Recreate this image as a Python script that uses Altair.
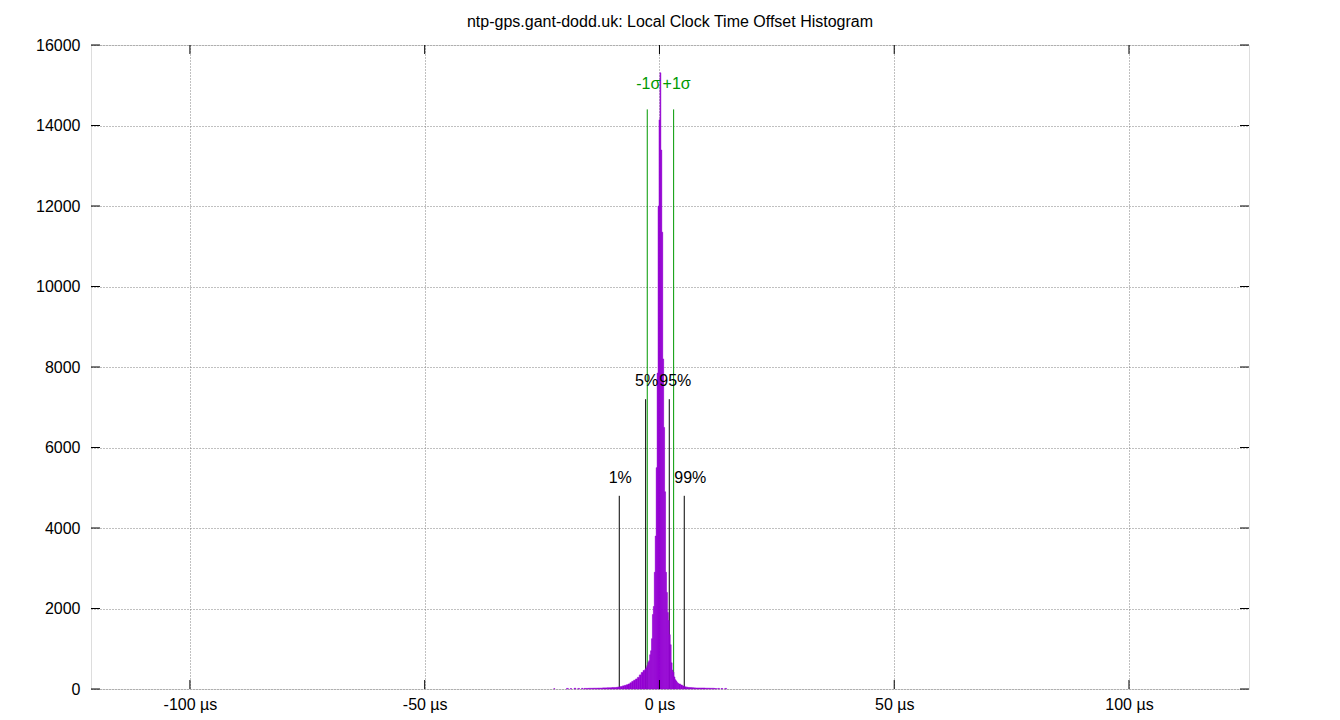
import altair as alt
import pandas as pd

# ---- histogram data (µs bin edges, counts) ----
bin_lo = [-22.5, -19.8, -19.0, -18.2, -17.4, -16.6, -16.1, -15.1, -14.1, -13.1, -12.1, -11.1, -10.1,
          -9.1, -8.7, -8.3, -7.9, -7.5, -7.1, -6.7, -6.3, -5.9, -5.5, -5.1, -4.7, -4.3, -3.9, -3.5,
          -3.1, -2.9, -2.7, -2.5, -2.3, -2.1, -1.9, -1.7, -1.5, -1.3, -1.1, -0.9, -0.7, -0.5, -0.3, -0.1,
          0.1, 0.3, 0.5, 0.7, 0.9, 1.1, 1.3, 1.5, 1.7, 1.9, 2.1, 2.3, 2.5, 2.7, 2.9, 3.1, 3.3, 3.5, 3.7, 3.9,
          4.1, 4.5, 4.9, 5.3, 5.7, 6.1, 6.5, 6.9, 7.3, 7.7, 8.7, 9.7, 10.7, 11.7, 12.4, 13.1, 13.9]
bin_hi = [-22.3, -19.4, -18.7, -17.8, -17.0, -16.3, -15.1, -14.1, -13.1, -12.1, -11.1, -10.1, -9.1,
          -8.7, -8.3, -7.9, -7.5, -7.1, -6.7, -6.3, -5.9, -5.5, -5.1, -4.7, -4.3, -3.9, -3.5, -3.1,
          -2.9, -2.7, -2.5, -2.3, -2.1, -1.9, -1.7, -1.5, -1.3, -1.1, -0.9, -0.7, -0.5, -0.3, -0.1, 0.1,
          0.3, 0.5, 0.7, 0.9, 1.1, 1.3, 1.5, 1.7, 1.9, 2.1, 2.3, 2.5, 2.7, 2.9, 3.1, 3.3, 3.5, 3.7, 3.9, 4.1,
          4.5, 4.9, 5.3, 5.7, 6.1, 6.5, 6.9, 7.3, 7.7, 8.7, 9.7, 10.7, 11.7, 12.2, 12.8, 13.5, 14.3]
counts = [12, 15, 12, 18, 14, 16, 15, 18, 20, 22, 28, 32, 38,
          45, 52, 62, 78, 90, 105, 125, 155, 190, 220, 250, 290, 350, 410, 460,
          490, 525, 580, 660, 700, 850, 950, 1250, 1850, 2050, 2900, 3800, 5500, 7850, 12000, 14140,
          15310, 13390, 11350, 8200, 6500, 4900, 2900, 2400, 1900, 1700, 1350, 1100, 650, 470, 420, 300, 230, 200, 160, 140,
          125, 100, 75, 55, 45, 38, 35, 32, 28, 25, 25, 20, 18, 12, 15, 12, 14]

# ---- marker lines ----
marker_names = ["1%", "5%", "95%", "99%", "-1σ", "+1σ"]
marker_x = [-8.56, -2.94, 2.09, 5.28, -2.60, 3.02]
marker_top = [4800, 7200, 7200, 4800, 14400, 14400]
marker_color = ["black", "black", "black", "black", "green", "green"]
marker_side = ["left", "left", "right", "right", "left", "right"]

y_ticks = [0, 2000, 4000, 6000, 8000, 10000, 12000, 14000, 16000]
x_ticks = [-100, -50, 0, 50, 100]

W, H = 1158, 644
FONT = "Liberation Sans"
PURPLE = "#9400d3"
GREEN = "#009900"
GRID = "#808080"

hist = pd.DataFrame({"lo": bin_lo, "hi": bin_hi, "n": counts})
marks = pd.DataFrame({"name": marker_names, "x": marker_x, "top": marker_top,
                      "col": marker_color, "side": marker_side})
yt = pd.DataFrame({"v": y_ticks})
xt = pd.DataFrame({"v": x_ticks})

xscale = alt.Scale(domain=[-121.07, 125.56], nice=False, zero=False)
yscale = alt.Scale(domain=[0, 16000], nice=False)

grid_axis_x = alt.Axis(values=x_ticks, labelExpr="datum.value + ' µs'", title=None,
                       grid=True, gridColor=GRID, gridDash=[1, 2], gridWidth=1,
                       ticks=False, tickSize=0, domain=False, labelPadding=7,
                       labelFont=FONT, labelFontSize=16, labelColor="black")
grid_axis_y = alt.Axis(values=y_ticks, title=None, format="d",
                       grid=True, gridColor=GRID, gridDash=[1, 2], gridWidth=1,
                       ticks=False, tickSize=0, domain=False, labelPadding=11,
                       labelFont=FONT, labelFontSize=16, labelColor="black")

lines = alt.Chart(marks).mark_rule(strokeWidth=1).encode(
    x=alt.X("x:Q", scale=xscale, axis=grid_axis_x),
    y=alt.Y("top:Q", scale=yscale, axis=grid_axis_y),
    y2=alt.datum(0),
    color=alt.Color("col:N", scale=alt.Scale(domain=["black", "green"], range=["black", GREEN]), legend=None),
)

bars = alt.Chart(hist).mark_rect(color=PURPLE, stroke=PURPLE, strokeWidth=0.5).encode(
    x=alt.X("lo:Q", scale=xscale),
    x2="hi:Q",
    y=alt.Y("n:Q", scale=yscale),
    y2=alt.datum(0),
)


def label_layer(colname, side, dx, dy, color):
    return alt.Chart(marks).transform_filter(
        (alt.datum.col == colname) & (alt.datum.side == side)
    ).mark_text(
        font=FONT, fontSize=16, baseline="middle", align="center", dx=dx, dy=dy, color=color
    ).encode(
        x=alt.X("x:Q", scale=xscale), y=alt.Y("top:Q", scale=yscale), text="name:N",
    )


texts = [
    label_layer("black", "left", 1, -18, "black"),
    label_layer("black", "right", 6, -18, "black"),
    label_layer("green", "left", 1, -25, GREEN),
    label_layer("green", "right", 3, -25, GREEN),
]

tick_len = 9
tl = alt.Chart(yt).mark_rule(color="black").encode(
    y=alt.Y("v:Q", scale=yscale), x=alt.value(0), x2=alt.value(tick_len))
tr = alt.Chart(yt).mark_rule(color="black").encode(
    y=alt.Y("v:Q", scale=yscale), x=alt.value(W - tick_len), x2=alt.value(W))
tb = alt.Chart(xt).mark_rule(color="black").encode(
    x=alt.X("v:Q", scale=xscale), y=alt.value(H), y2=alt.value(H - tick_len))
tt = alt.Chart(xt).mark_rule(color="black").encode(
    x=alt.X("v:Q", scale=xscale), y=alt.value(0), y2=alt.value(tick_len))

chart = alt.layer(lines, bars, *texts, tl, tr, tb, tt).properties(
    width=W, height=H,
    title=alt.TitleParams("ntp-gps.gant-dodd.uk: Local Clock Time Offset Histogram",
                          font=FONT, fontSize=16, fontWeight="normal", color="black",
                          anchor="middle", offset=7),
    autosize=alt.AutoSizeParams(type="none"),
    padding={"left": 83, "top": 37, "right": 80, "bottom": 30},
).configure_view(stroke="black", strokeWidth=1).configure(background="white")

chart.save("out.html", embed_options={"renderer": "svg", "actions": False})
